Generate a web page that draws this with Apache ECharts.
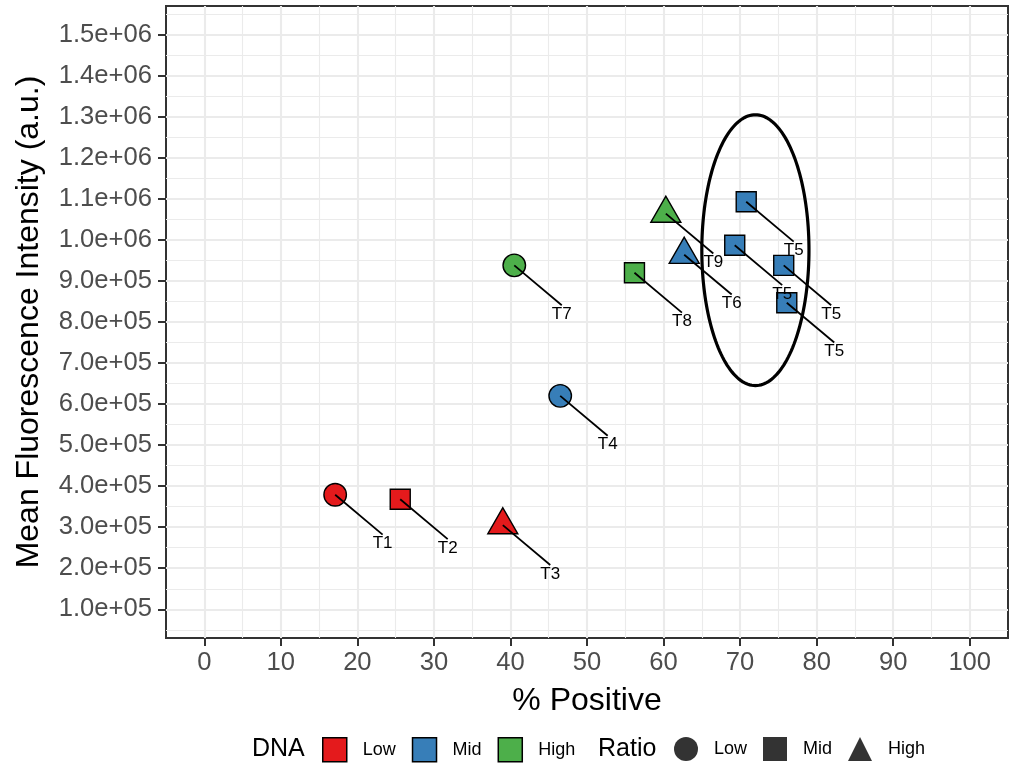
<!DOCTYPE html>
<html>
<head>
<meta charset="utf-8">
<script src="https://cdn.jsdelivr.net/npm/echarts@6/dist/echarts.min.js"></script>
<style>
  html, body { margin: 0; padding: 0; background: #ffffff; }
  #chart { width: 1013px; height: 767px; }
</style>
</head>
<body>
<div id="chart"></div>
<script>
// Treatments: label, % positive cells, mean fluorescence intensity, DNA level, ratio level
const labels      = ['T1', 'T2', 'T3', 'T4', 'T5', 'T5', 'T5', 'T5', 'T6', 'T7', 'T8', 'T9'];
const pctPositive = [17.1, 25.6, 39.0, 46.5, 70.8, 69.3, 75.7, 76.1, 62.7, 40.5, 56.2, 60.3];
const mfi         = [379000, 368000, 305000, 620000, 1093000, 987000, 938000, 847000, 964000, 938000, 920000, 1064000];
const dnaLevel    = ['Low', 'Low', 'Low', 'Mid', 'Mid', 'Mid', 'Mid', 'Mid', 'Mid', 'High', 'High', 'High'];
const ratioLevel  = ['Low', 'Mid', 'High', 'Low', 'Mid', 'Mid', 'Mid', 'Mid', 'High', 'Low', 'Mid', 'High'];

const dnaLevels   = ['Low', 'Mid', 'High'];
const ratioLevels = ['Low', 'Mid', 'High'];

// Axis breaks
const xMajor = [0, 10, 20, 30, 40, 50, 60, 70, 80, 90, 100];
const xMinor = [5, 15, 25, 35, 45, 55, 65, 75, 85, 95];
const yMajor = [100000, 200000, 300000, 400000, 500000, 600000, 700000, 800000,
                900000, 1000000, 1100000, 1200000, 1300000, 1400000, 1500000];
const yMinor = [50000, 150000, 250000, 350000, 450000, 550000, 650000, 750000, 850000,
                950000, 1050000, 1150000, 1250000, 1350000, 1450000, 1550000];

// Label nudge (data units) and the highlighted T5 cluster (centre, semi-axes)
const labelNudge = [6.2, -119000];
const clusterEllipse = [72, 975000, 7, 330000];

const FONT = '"Liberation Sans", Arial, Helvetica, sans-serif';
const dnaColors = { Low: '#E41A1C', Mid: '#377EB8', High: '#4DAF4A' };
const ratioSymbols = { Low: 'circle', Mid: 'rect', High: 'triangle' };
const ratioSizes = { Low: 22.5, Mid: 20, High: [30, 26] };
const ratioOffsets = { Low: [0, 0], Mid: [0, 0], High: [0, -4.4] };

function sciLabel(v) {
  const parts = Number(v).toExponential(1).split('e');
  const sign = parts[1][0] === '-' ? '-' : '+';
  const exp = parts[1].replace(/^[+-]/, '').padStart(2, '0');
  return parts[0] + 'e' + sign + exp;
}

const minorLine = { color: '#ebebeb', width: 1.1, type: 'solid' };
const majorLine = { color: '#ebebeb', width: 2.1, type: 'solid' };

// Background panel grid, kept beneath every other layer
const gridLineSeries = {
  type: 'line',
  name: 'gridlines',
  data: [],
  z: 0,
  silent: true,
  markLine: {
    z: 0,
    silent: true,
    animation: false,
    symbol: ['none', 'none'],
    label: { show: false },
    emphasis: { disabled: true },
    data: [].concat(
      xMinor.map(v => ({ xAxis: v, lineStyle: minorLine })),
      yMinor.map(v => ({ yAxis: v, lineStyle: minorLine })),
      xMajor.map(v => ({ xAxis: v, lineStyle: majorLine })),
      yMajor.map(v => ({ yAxis: v, lineStyle: majorLine }))
    )
  }
};

// One scatter series per DNA level; the symbol shows the ratio level
const pointSeries = dnaLevels.map(level => {
  const data = [];
  pctPositive.forEach((x, i) => {
    if (dnaLevel[i] !== level) return;
    const r = ratioLevel[i];
    data.push({
      value: [x, mfi[i]],
      symbol: ratioSymbols[r],
      symbolSize: ratioSizes[r],
      symbolOffset: ratioOffsets[r]
    });
  });
  return {
    type: 'scatter',
    name: 'DNA ' + level,
    z: 3,
    data: data,
    itemStyle: { color: dnaColors[level], borderColor: '#000000', borderWidth: 1.4, opacity: 1 },
    emphasis: { disabled: true }
  };
});

// Empty series that only carry the ratio legend entries
const ratioLegendSeries = ratioLevels.map(level => ({
  type: 'scatter',
  name: 'Ratio ' + level,
  data: [],
  symbol: ratioSymbols[level],
  itemStyle: { color: '#000000' }
}));

const labelSeries = {
  type: 'custom',
  name: 'labels',
  z: 6,
  silent: true,
  data: pctPositive.map((x, i) => [x, mfi[i]]),
  renderItem: function (params, api) {
    const x = api.value(0), y = api.value(1);
    const p = api.coord([x, y]);
    const q = api.coord([x + labelNudge[0], y + labelNudge[1]]);
    return {
      type: 'group',
      children: [
        {
          type: 'line',
          shape: { x1: p[0], y1: p[1], x2: q[0], y2: q[1] - 9 },
          style: { stroke: '#000000', lineWidth: 1.8 }
        },
        {
          type: 'text',
          x: q[0],
          y: q[1],
          style: {
            text: labels[params.dataIndex],
            fontFamily: FONT,
            fontSize: 17,
            fill: '#000000',
            align: 'center',
            verticalAlign: 'middle'
          }
        }
      ]
    };
  }
};

const ellipseSeries = {
  type: 'custom',
  name: 'cluster',
  z: 7,
  silent: true,
  data: [clusterEllipse],
  renderItem: function (params, api) {
    const cx = api.value(0), cy = api.value(1), a = api.value(2), b = api.value(3);
    const pts = [];
    for (let k = 0; k < 180; k++) {
      const t = (k / 180) * Math.PI * 2;
      pts.push(api.coord([cx + a * Math.cos(t), cy + b * Math.sin(t)]));
    }
    return {
      type: 'polygon',
      shape: { points: pts },
      style: { fill: 'none', stroke: '#000000', lineWidth: 3.2 }
    };
  }
};

const legendCommon = {
  orient: 'horizontal',
  top: 737,
  padding: 0,
  itemWidth: 24,
  itemHeight: 24,
  itemGap: 16,
  selectedMode: false,
  formatter: name => name.split(' ')[1],
  textStyle: { fontFamily: FONT, fontSize: 18, color: '#000000', padding: [0, 0, 0, 11] }
};

const option = {
  animation: false,
  backgroundColor: '#ffffff',
  textStyle: { fontFamily: FONT },
  grid: {
    left: 166,
    top: 6,
    width: 842,
    height: 632,
    show: true,
    backgroundColor: 'transparent',
    borderColor: '#333333',
    borderWidth: 2,
    outerBoundsMode: 'none'
  },
  xAxis: {
    type: 'value',
    min: -5,
    max: 105,
    name: '% Positive',
    nameLocation: 'middle',
    nameGap: 47,
    nameTextStyle: { fontFamily: FONT, fontSize: 32, color: '#000000' },
    axisLine: { show: false, onZero: false },
    splitLine: { show: false },
    axisTick: { show: true, customValues: xMajor, length: 8, lineStyle: { color: '#333333', width: 2 } },
    axisLabel: { customValues: xMajor, margin: 12, fontFamily: FONT, fontSize: 25.6, color: '#4d4d4d' }
  },
  yAxis: {
    type: 'value',
    min: 30000,
    max: 1570000,
    name: 'Mean Fluorescence Intensity (a.u.)',
    nameLocation: 'middle',
    nameGap: 121,
    nameTextStyle: { fontFamily: FONT, fontSize: 32, color: '#000000' },
    axisLine: { show: false, onZero: false },
    splitLine: { show: false },
    axisTick: { show: true, customValues: yMajor, length: 8, lineStyle: { color: '#333333', width: 2 } },
    axisLabel: { customValues: yMajor, margin: 14, fontFamily: FONT, fontSize: 25.6, color: '#4d4d4d', formatter: sciLabel }
  },
  legend: [
    Object.assign({}, legendCommon, {
      left: 322,
      data: dnaLevels.map(l => ({
        name: 'DNA ' + l,
        icon: 'rect',
        itemStyle: { color: dnaColors[l], borderColor: '#000000', borderWidth: 1.5 }
      }))
    }),
    Object.assign({}, legendCommon, {
      left: 674,
      data: ratioLevels.map(l => ({
        name: 'Ratio ' + l,
        icon: ratioSymbols[l],
        itemStyle: { color: '#000000', borderWidth: 0 }
      }))
    })
  ],
  graphic: [
    { type: 'text', x: 252, y: 749, style: { text: 'DNA', fontFamily: FONT, fontSize: 25, fill: '#000000', verticalAlign: 'middle' } },
    { type: 'text', x: 598, y: 749, style: { text: 'Ratio', fontFamily: FONT, fontSize: 25, fill: '#000000', verticalAlign: 'middle' } }
  ],
  series: [gridLineSeries].concat(pointSeries, ratioLegendSeries, [labelSeries, ellipseSeries])
};

const chart = echarts.init(document.getElementById('chart'), null, { renderer: 'canvas' });
chart.setOption(option);
</script>
</body>
</html>
